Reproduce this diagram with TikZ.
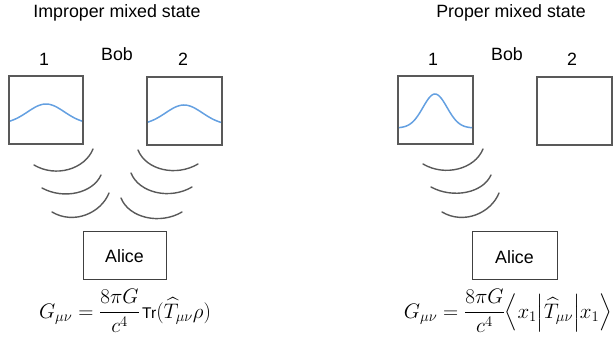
\documentclass[tikz,border=0pt]{standalone}
\usepackage{fix-cm}
\usepackage{amsmath}
\usepackage[no-math]{fontspec}
\setmainfont{Liberation Sans}
\begin{document}
\begin{tikzpicture}[x=1pt,y=-1pt,
  lbl/.style={font=\fontsize{17.8}{20}\selectfont, anchor=base, inner sep=0pt},
  bobbox/.style={draw=black!65, line width=1.8pt},
  alicebox/.style={draw=black!75, line width=1pt},
  wave/.style={draw={rgb,255:red,100;green,160;blue,225}, line width=1.5pt},
  arcline/.style={draw=black!65, line width=1.4pt, line cap=round},
  eq/.style={font=\fontsize{21}{24}\selectfont, inner sep=0pt}]
\useasboundingbox (0,0) rectangle (614,343);
% ---------- left panel ----------
\node[lbl] (t1) at (117,17) {Improper mixed state};
\node[lbl] (l1) at (44,65) {1};
\node[lbl] (lb) at (117,60) {Bob};
\node[lbl] (l2) at (183,65) {2};
\draw[bobbox] (9,76) rectangle (83,144);
\draw[bobbox] (147,77) rectangle (222,145);
\draw[wave] plot[domain=10:82, samples=50, smooth] (\x, {124 - 20*exp(-((\x-46)/26)^2)});
\draw[wave] plot[domain=148:221, samples=50, smooth] (\x, {125 - 20*exp(-((\x-184)/26)^2)});
% arcs
\draw[arcline] (93,149) .. controls +(-8,20) and +(22,13) .. (34,165);
\draw[arcline] (101,175) .. controls +(-8,18) and +(22,12) .. (42,188);
\draw[arcline] (109,193) .. controls +(-8,20) and +(22,13) .. (52,212);
\draw[arcline] (138,150) .. controls +(8,20) and +(-22,13) .. (198,164);
\draw[arcline] (131,173) .. controls +(8,20) and +(-22,13) .. (192,187);
\draw[arcline] (121,198) .. controls +(8,20) and +(-22,13) .. (182,212);
\node[alicebox, minimum width=83pt, minimum height=48pt, inner sep=0pt] (a1) at (124.5,255) {};
\node[lbl] (a1t) at (124.5,262) {Alice};
\node[eq] (e1) at (125,311) {$G_{\mu\nu}=\dfrac{8\pi G}{c^4}\mkern2mu\mbox{\fontsize{15.5}{18}\selectfont Tr}(\widehat{T}_{\mu\nu}\rho)$};
% ---------- right panel ----------
\node[lbl] (t2) at (511,17) {Proper mixed state};
\node[lbl] (r1) at (433,65) {1};
\node[lbl] (rb) at (507,60) {Bob};
\node[lbl] (r2) at (572,65) {2};
\draw[bobbox] (398,76) rectangle (473,144);
\draw[bobbox] (537,77) rectangle (612,145);
\draw[wave] plot[domain=399:472, samples=60, smooth] (\x, {128 - 34*exp(-((\x-435)/17)^2)});
\draw[arcline] (483,149) .. controls +(-8,20) and +(22,13) .. (423,164);
\draw[arcline] (491,175) .. controls +(-8,18) and +(22,12) .. (431,187);
\draw[arcline] (499,193) .. controls +(-8,20) and +(22,13) .. (442,212);
\node[alicebox, minimum width=85pt, minimum height=48pt, inner sep=0pt] (a2) at (514.5,255) {};
\node[lbl] (a2t) at (514.5,263) {Alice};
\node[eq] (e2) at (508,311) {$G_{\mu\nu}=\dfrac{8\pi G}{c^4}\Big\langle x_1\Big|\widehat{T}_{\mu\nu}\Big|x_1\Big\rangle$};
\end{tikzpicture}
\end{document}
